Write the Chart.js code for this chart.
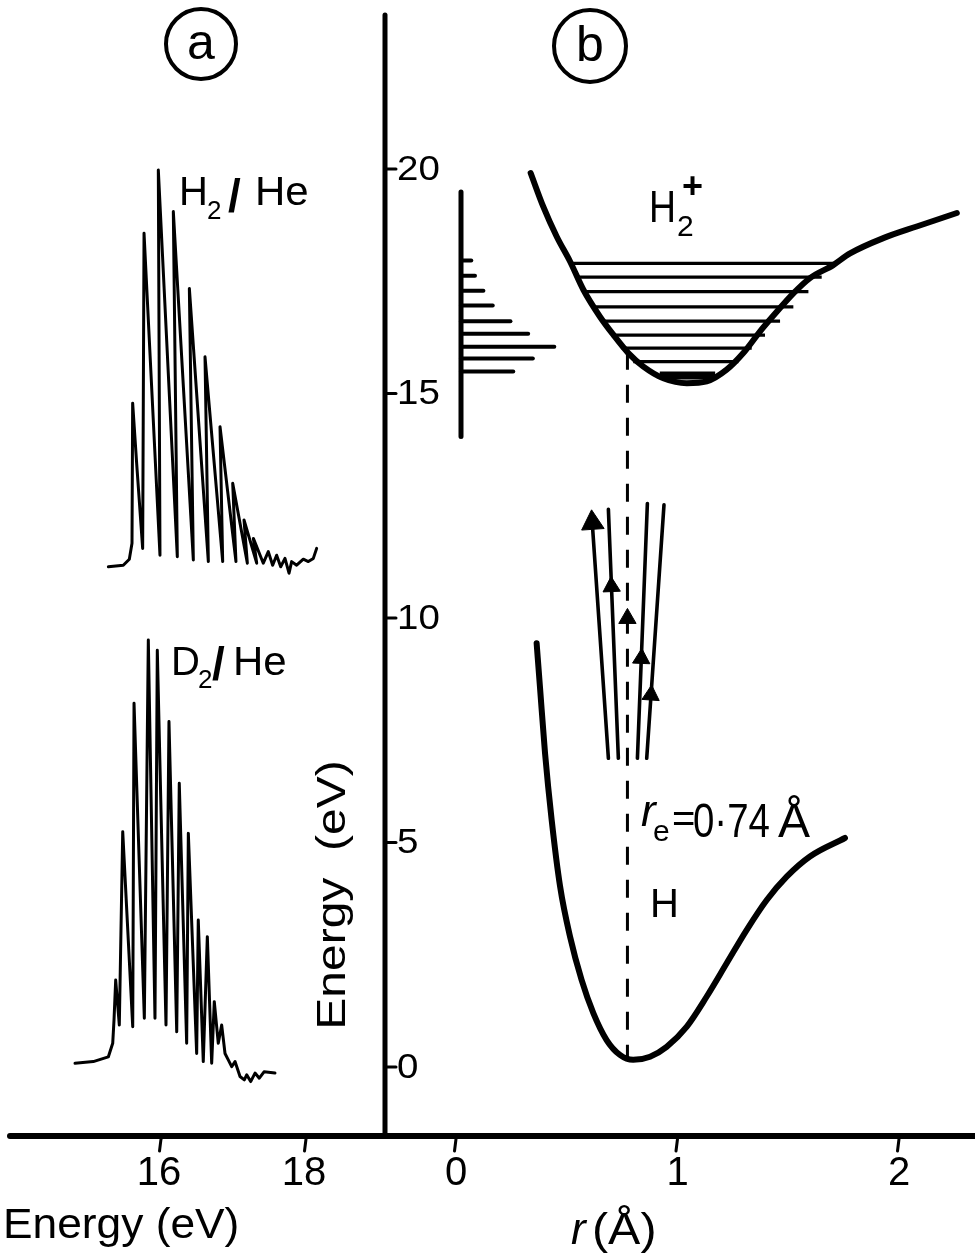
<!DOCTYPE html>
<html><head><meta charset="utf-8">
<script src="https://cdn.jsdelivr.net/npm/chart.js@4.4.1/dist/chart.umd.min.js"></script>
<style>html,body{margin:0;padding:0;background:#fff;}#wrap{width:975px;height:1258px;}</style>
</head><body><div id="wrap"><canvas id="c" width="975" height="1258"></canvas></div>
<script>
// ===================== DATA =====================
// tick labels
const specEnergyTicks = [16, 18];          // panel a, photoelectron energy (eV)
const rTicks = [0, 1, 2];                  // panel b, internuclear distance r (Å)
const energyTicks = [0, 5, 10, 15, 20];    // panel b, energy (eV)

// panel a: H2/He photoelectron spectrum (energy eV, relative intensity)
const h2SpecE = [15.274,15.480,15.563,15.600,15.609,15.664,15.747,15.766,15.986,15.963,16.225,16.170,16.446,16.391,16.653,16.607,16.851,16.814,17.034,16.989,17.191,17.145,17.320,17.274,17.411,17.480,17.540,17.595,17.651,17.710,17.766,17.802,17.871,17.963,18.032,18.101,18.147];
const h2SpecI = [0.8,1.2,2.7,6.7,41.7,26.7,5.4,84.2,3.7,100,3.3,89.6,2.5,70.4,2.1,53.3,2.1,35.8,2.1,21.7,1.7,12.5,1.7,7.9,1.7,4.6,1.2,3.7,0.8,2.9,-0.8,2.1,1.2,2.7,2.1,2.9,5.4];

// panel a: D2/He photoelectron spectrum
const d2SpecE = [14.814,15.066,15.273,15.334,15.352,15.375,15.425,15.472,15.610,15.628,15.770,15.825,15.917,15.949,16.069,16.110,16.217,16.252,16.354,16.377,16.492,16.514,16.583,16.639,16.699,16.735,16.790,16.837,16.883,16.928,16.975,17.021,17.090,17.149,17.182,17.237,17.297,17.356,17.421,17.572];
const d2SpecI = [0.4,0.8,1.9,5.1,10.6,20,9.4,54.9,9.0,85.1,11.0,100,11.0,97.6,9.4,80.8,7.8,66.3,5.1,54.5,2.7,34.1,0.8,30.2,0.4,14.9,5.1,9.4,2.7,1.2,-0.4,0.8,-2.7,-3.5,-2.3,-3.9,-1.9,-3.1,-1.6,-1.9];

// panel b: H2+ potential curve (r Å, E eV)
const ionCurveR = [0.337,0.394,0.455,0.515,0.575,0.650,0.710,0.778,0.846,0.936,1.042,1.132,1.222,1.297,1.372,1.448,1.523,1.598,1.703,1.779,1.929,2.080,2.261];
const ionCurveE = [19.91,19.16,18.49,17.94,17.31,16.71,16.31,15.90,15.60,15.34,15.23,15.27,15.53,15.90,16.38,16.82,17.23,17.57,17.86,18.12,18.46,18.72,19.02];

// panel b: H2 ground-state potential curve
const groundCurveR = [0.364,0.379,0.402,0.432,0.470,0.515,0.567,0.620,0.680,0.740,0.800,0.876,0.951,1.042,1.132,1.222,1.312,1.403,1.493,1.598,1.756];
const groundCurveE = [9.44,8.47,6.99,5.50,4.02,2.90,1.94,1.20,0.60,0.27,0.16,0.23,0.45,0.90,1.57,2.31,3.05,3.72,4.24,4.69,5.10];

// panel b: H2+ vibrational levels (energy, left and right turning points)
const ionLevelE      = [17.90,17.59,17.27,16.93,16.61,16.30,16.01,15.71,15.40];
const ionLevelRLeft  = [0.515,0.545,0.575,0.613,0.658,0.703,0.748,0.800,0.920];
const ionLevelRRight = [1.703,1.651,1.591,1.523,1.463,1.395,1.335,1.275,1.170];

// panel b: Franck-Condon intensity bars (energy, relative intensity)
const fcBarE = [17.96,17.62,17.29,16.96,16.61,16.33,16.04,15.78,15.49];
const fcBarI = [11,15,24,34,53,72,100,77,56];
const fcSpineE = [19.49, 14.04];

// panel b: vertical transition arrows (start r,E -> end r,E)
const arrowR0 = [0.688,0.733,0.819,0.861];
const arrowE0 = [6.875,6.875,6.875,6.875];
const arrowR1 = [0.614,0.688,0.864,0.939];
const arrowE1 = [12.20,12.42,12.55,12.52];
const arrowHeadR = [0.616,0.702,0.774,0.837,0.880];
const arrowHeadE = [12.12,10.70,9.99,9.10,8.285];

// panel b: equilibrium distance marker
const reLineR = [0.774, 0.774];
const reLineE = [15.93, 0.20];

// ===================== LAYOUT (pixel anchors of the axes) =====================
const W = 975, H = 1258;
function hRange(v0, p0, v1, p1) { const k = (p1 - p0) / (v1 - v0); const min = v0 - p0 / k; return {min, max: min + W / k}; }
function vRange(v0, p0, v1, p1) { const k = (p0 - p1) / (v1 - v0); const max = v0 + p0 / k; return {min: max - H / k, max}; }
const rRange    = hRange(0, 456, 1, 677.5);
const eRange    = vRange(0, 1067, 20, 169);
const specRange = hRange(16, 161, 18, 306);
const h2IRange  = vRange(0, 570, 100, 170);
const d2IRange  = vRange(0, 1065, 100, 640);
const fcRange   = hRange(0, 461, 100, 554.3);

const FONT = '"Liberation Sans", Arial, Helvetica, sans-serif';
function txt(ctx, s, x, y, size, o = {}) {
  ctx.save();
  ctx.translate(x, y);
  if (o.rot) ctx.rotate(o.rot);
  ctx.scale(o.sx || 1, 1);
  ctx.font = (o.italic ? 'italic ' : '') + (o.bold ? 'bold ' : '') + size + 'px ' + (o.family || FONT);
  ctx.textAlign = o.align || 'left';
  ctx.textBaseline = o.base || 'alphabetic';
  ctx.fillStyle = '#000';
  ctx.fillText(s, 0, 0);
  ctx.restore();
}
function seg(ctx, x0, y0, x1, y1, w) {
  ctx.save(); ctx.lineWidth = w; ctx.strokeStyle = '#000'; ctx.lineCap = 'round';
  ctx.beginPath(); ctx.moveTo(x0, y0); ctx.lineTo(x1, y1); ctx.stroke(); ctx.restore();
}
function ring(ctx, cx, cy, r, w) {
  ctx.save(); ctx.lineWidth = w; ctx.strokeStyle = '#000';
  ctx.beginPath(); ctx.arc(cx, cy, r, 0, Math.PI * 2); ctx.stroke(); ctx.restore();
}

const AXIS_X = 385, AXIS_TOP = 15, BASE_Y = 1136;

const decorations = {
  id: 'decorations',
  afterDatasetsDraw(chart) {
    const ctx = chart.ctx, s = chart.scales;
    // energy axis of panel b
    seg(ctx, AXIS_X, AXIS_TOP, AXIS_X, BASE_Y, 5);
    energyTicks.forEach(v => {
      const py = s.y.getPixelForValue(v);
      seg(ctx, AXIS_X, py, AXIS_X + 11, py, 3);
      txt(ctx, String(v), AXIS_X + 12, py + 1, 35, {base: 'middle', sx: 1.1});
    });
    // common baseline
    seg(ctx, 10, BASE_Y, W, BASE_Y, 6);
    specEnergyTicks.forEach(v => {
      const px = s.xSpec.getPixelForValue(v);
      seg(ctx, px, BASE_Y + 3, px - 1.5, BASE_Y + 15, 3);
      txt(ctx, String(v), px - 2, 1185, 40, {align: 'center'});
    });
    rTicks.forEach(v => {
      const px = s.x.getPixelForValue(v);
      seg(ctx, px, BASE_Y + 3, px - 1.5, BASE_Y + 15, 3);
      txt(ctx, String(v), px, 1185, 40, {align: 'center'});
    });
    // axis titles
    txt(ctx, 'Energy (eV)', 3, 1238, 43, {sx: 1.03});
    txt(ctx, 'r', 571, 1244, 44, {italic: true});
    txt(ctx, '(Å)', 592, 1244, 44, {sx: 1.1});
    txt(ctx, 'Energy  (eV)', 334, 895, 40, {rot: -Math.PI / 2, align: 'center', base: 'middle', sx: 1.2});
    // panel labels
    ring(ctx, 201, 44, 35, 4);
    txt(ctx, 'a', 201, 45, 50, {align: 'center', base: 'middle'});
    ring(ctx, 590, 46, 36, 4);
    txt(ctx, 'b', 590, 47, 50, {align: 'center', base: 'middle'});
    // spectrum labels
    txt(ctx, 'H', 179, 205, 40);
    txt(ctx, '2', 207, 219, 26);
    txt(ctx, '/', 228, 212, 46, {bold: true});
    txt(ctx, 'He', 255, 205, 40, {sx: 1.05});
    txt(ctx, 'D', 171, 675, 40);
    txt(ctx, '2', 198, 688, 26);
    txt(ctx, '/', 212, 680, 46, {bold: true});
    txt(ctx, 'He', 233, 675, 40, {sx: 1.05});
    // curve labels
    txt(ctx, 'H', 649, 222, 44, {sx: 0.85});
    txt(ctx, '2', 677, 236, 30);
    txt(ctx, '+', 682, 198, 36, {bold: true});
    txt(ctx, 'r', 641, 826, 44, {italic: true});
    txt(ctx, 'e', 653, 841, 30);
    txt(ctx, '=', 672, 832, 40);
    txt(ctx, '0·74', 693, 837, 48, {sx: 0.8});
    txt(ctx, 'Å', 778, 837, 48);
    txt(ctx, 'H', 650, 917, 40);
  }
};

// ===================== DATASETS =====================
const pts = (xs, ys) => xs.map((x, i) => ({x, y: ys[i]}));
const base = {pointRadius: 0, fill: false, borderColor: '#000', backgroundColor: '#000', tension: 0, borderCapStyle: 'round', borderJoinStyle: 'round'};
const datasets = [];
datasets.push({...base, label: 'H2/He', data: pts(h2SpecE, h2SpecI), xAxisID: 'xSpec', yAxisID: 'yH2', borderWidth: 3});
datasets.push({...base, label: 'D2/He', data: pts(d2SpecE, d2SpecI), xAxisID: 'xSpec', yAxisID: 'yD2', borderWidth: 3});
datasets.push({...base, label: 'H2+ curve', data: pts(ionCurveR, ionCurveE), xAxisID: 'x', yAxisID: 'y', borderWidth: 6, cubicInterpolationMode: 'monotone'});
datasets.push({...base, label: 'H2 curve', data: pts(groundCurveR, groundCurveE), xAxisID: 'x', yAxisID: 'y', borderWidth: 6, cubicInterpolationMode: 'monotone'});
ionLevelE.forEach((e, i) => datasets.push({...base, label: 'v' + i,
  data: [{x: ionLevelRLeft[i], y: e}, {x: ionLevelRRight[i], y: e}], xAxisID: 'x', yAxisID: 'y',
  borderWidth: i === ionLevelE.length - 1 ? 8 : 3.2, borderCapStyle: 'butt'}));
datasets.push({...base, label: 'FC spine', data: [{x: 0, y: fcSpineE[0]}, {x: 0, y: fcSpineE[1]}], xAxisID: 'xFC', yAxisID: 'y', borderWidth: 5});
fcBarE.forEach((e, i) => datasets.push({...base, label: 'FC' + i,
  data: [{x: 0, y: e}, {x: fcBarI[i], y: e}], xAxisID: 'xFC', yAxisID: 'y', borderWidth: 4}));
arrowR0.forEach((r, i) => datasets.push({...base, label: 'transition' + i,
  data: [{x: r, y: arrowE0[i]}, {x: arrowR1[i], y: arrowE1[i]}], xAxisID: 'x', yAxisID: 'y', borderWidth: 3.6}));
datasets.push({...base, label: 're', data: pts(reLineR, reLineE), xAxisID: 'x', yAxisID: 'y', borderWidth: 3, borderDash: [18, 15], borderCapStyle: 'butt'});
datasets.push({...base, label: 'arrowheads', data: pts(arrowHeadR, arrowHeadE), xAxisID: 'x', yAxisID: 'y',
  showLine: false, pointStyle: 'triangle', pointRadius: [13, 10, 10, 10, 10], pointRotation: [-3.9, -2.3, 0, 2.2, 3.9],
  pointBackgroundColor: '#000', pointBorderColor: '#000', pointBorderWidth: 1});

const hid = {display: false, type: 'linear'};
new Chart(document.getElementById('c'), {
  type: 'line',
  data: {datasets},
  options: {
    responsive: false, animation: false, devicePixelRatio: 1, events: [],
    layout: {padding: 0, autoPadding: false},
    plugins: {legend: {display: false}, tooltip: {enabled: false}},
    scales: {
      x: {...hid, min: rRange.min, max: rRange.max},
      y: {...hid, min: eRange.min, max: eRange.max},
      xSpec: {...hid, axis: 'x', min: specRange.min, max: specRange.max},
      yH2: {...hid, axis: 'y', min: h2IRange.min, max: h2IRange.max},
      yD2: {...hid, axis: 'y', min: d2IRange.min, max: d2IRange.max},
      xFC: {...hid, axis: 'x', min: fcRange.min, max: fcRange.max}
    }
  },
  plugins: [decorations]
});
</script></body></html>
